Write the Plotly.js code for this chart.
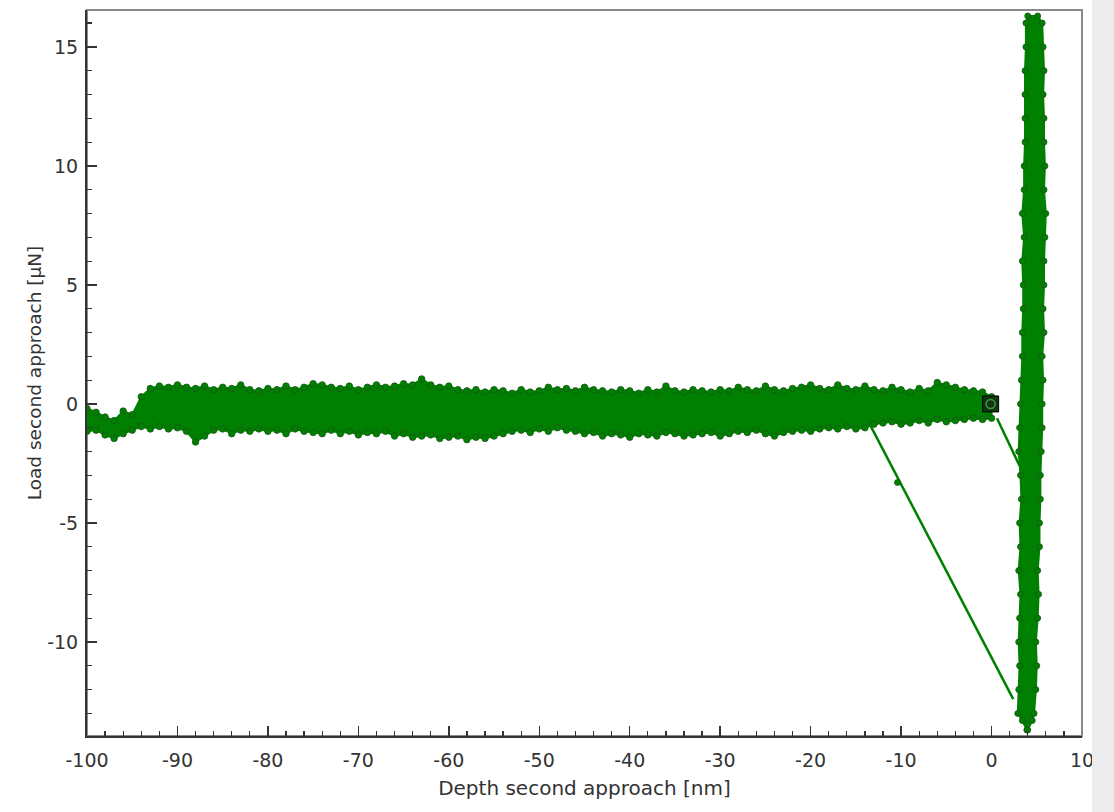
<!DOCTYPE html>
<html>
<head>
<meta charset="utf-8">
<script src="https://cdn.plot.ly/plotly-3.0.1.min.js"></script>
<style>
html,body{margin:0;padding:0;background:#fff;}
#chart{width:1114px;height:812px;}
</style>
</head>
<body>
<div id="chart"></div>
<script>
// Horizontal (approach) band: depth positions and upper/lower load envelopes
const bandDepth = [-100,-99,-98,-97,-96,-95,-94,-93,-92,-91,-90,-89,-88,-87,-86,-85,-84,-83,-82,-81,-80,-79,-78,-77,-76,-75,-74,-73,-72,-71,-70,-69,-68,-67,-66,-65,-64,-63,-62,-61,-60,-59,-58,-57,-56,-55,-54,-53,-52,-51,-50,-49,-48,-47,-46,-45,-44,-43,-42,-41,-40,-39,-38,-37,-36,-35,-34,-33,-32,-31,-30,-29,-28,-27,-26,-25,-24,-23,-22,-21,-20,-19,-18,-17,-16,-15,-14,-13,-12,-11,-10,-9,-8,-7,-6,-5,-4,-3,-2,-1,0];
const bandTop = [-0.2,-0.35,-0.55,-0.7,-0.3,-0.45,0.3,0.65,0.75,0.7,0.8,0.7,0.65,0.75,0.6,0.7,0.65,0.8,0.6,0.55,0.65,0.6,0.75,0.6,0.7,0.85,0.8,0.7,0.65,0.75,0.6,0.7,0.8,0.7,0.75,0.85,0.8,1.05,0.8,0.7,0.75,0.6,0.55,0.6,0.5,0.6,0.55,0.45,0.6,0.5,0.55,0.7,0.6,0.65,0.55,0.7,0.6,0.55,0.5,0.6,0.55,0.45,0.6,0.5,0.75,0.55,0.5,0.6,0.55,0.5,0.6,0.55,0.7,0.6,0.55,0.75,0.6,0.55,0.65,0.7,0.8,0.65,0.6,0.8,0.65,0.6,0.75,0.6,0.55,0.7,0.6,0.5,0.65,0.55,0.9,0.8,0.7,0.6,0.55,0.5,0.3];
const bandBottom = [-1.15,-1.1,-1.3,-1.45,-1.25,-1.1,-0.95,-1.05,-0.95,-1.05,-1.0,-1.15,-1.6,-1.35,-1.1,-1.05,-1.25,-1.1,-1.15,-1.05,-1.15,-1.1,-1.25,-1.05,-1.15,-1.2,-1.25,-1.1,-1.25,-1.15,-1.3,-1.2,-1.25,-1.15,-1.35,-1.25,-1.4,-1.35,-1.3,-1.45,-1.4,-1.35,-1.5,-1.4,-1.45,-1.35,-1.25,-1.15,-1.1,-1.2,-1.05,-1.15,-1.0,-1.1,-1.15,-1.25,-1.2,-1.35,-1.25,-1.3,-1.4,-1.25,-1.3,-1.35,-1.2,-1.25,-1.35,-1.3,-1.25,-1.2,-1.35,-1.25,-1.15,-1.2,-1.1,-1.25,-1.35,-1.2,-1.15,-1.1,-1.15,-1.05,-1.0,-1.05,-0.95,-1.05,-1.0,-0.85,-0.8,-0.75,-0.85,-0.8,-0.7,-0.8,-0.65,-0.75,-0.7,-0.65,-0.6,-0.65,-0.6];

// Vertical (loading) band: load positions and left/right depth envelopes
const riseLoad = [-13.7,-13.3,-13,-12,-11,-10,-9,-8,-7,-6,-5,-4,-3,-2,-1,0,1,2,3,4,5,6,7,8,9,10,11,12,13,14,15,16,16.3];
const riseLeft = [3.9,3.4,2.9,3.0,3.1,3.0,3.1,3.2,3.0,3.2,3.1,3.3,3.2,3.0,3.1,3.2,3.3,3.4,3.4,3.5,3.5,3.4,3.6,3.4,3.6,3.6,3.7,3.7,3.7,3.7,3.8,3.8,4.0];
const riseRight = [4.0,4.5,4.7,4.9,5.0,4.9,5.1,5.2,5.1,5.3,5.3,5.4,5.4,5.5,5.6,5.6,5.7,5.6,5.8,5.7,5.8,5.8,5.9,6.0,5.8,5.9,5.8,5.8,5.7,5.8,5.7,5.6,5.1];

// Jump segments
const jump1Depth = [-13.4, 2.4];
const jump1Load = [-0.9, -12.4];
const jump1MidDepth = [-10.4];
const jump1MidLoad = [-3.3];
const jump2Depth = [0.6, 3.1];
const jump2Load = [-0.6, -2.6];

// Contact point marker
const contactDepth = [-0.1];
const contactLoad = [0.0];

const xTicks = [-100,-90,-80,-70,-60,-50,-40,-30,-20,-10,0,10];
const yTicks = [-10,-5,0,5,10,15];

const green = 'rgb(0,128,0)';
const edge = 'rgb(24,84,24)';

const polyX = bandDepth.concat(bandDepth.slice().reverse());
const polyY = bandTop.concat(bandBottom.slice().reverse());
const rPolyX = riseLeft.concat(riseRight.slice().reverse());
const rPolyY = riseLoad.concat(riseLoad.slice().reverse());

const traces = [
  {x: polyX, y: polyY, type:'scatter', mode:'lines', fill:'toself', fillcolor: green,
   line:{color: green, width:2}, hoverinfo:'skip'},
  {x: rPolyX, y: rPolyY, type:'scatter', mode:'lines', fill:'toself', fillcolor: green,
   line:{color: green, width:2}, hoverinfo:'skip'},
  {x: bandDepth.concat(bandDepth), y: bandTop.concat(bandBottom), type:'scatter', mode:'markers',
   marker:{size:6.5, color: green, line:{color: edge, width:0.8}}, hoverinfo:'skip'},
  {x: riseLeft.concat(riseRight), y: riseLoad.concat(riseLoad), type:'scatter', mode:'markers',
   marker:{size:6, color: green, line:{color: edge, width:0.8}}, hoverinfo:'skip'},
  {x: jump1Depth, y: jump1Load, type:'scatter', mode:'lines', line:{color: green, width:2.5}},
  {x: jump1MidDepth, y: jump1MidLoad, type:'scatter', mode:'markers', marker:{size:6, color: green, line:{color: edge, width:0.8}}},
  {x: jump2Depth, y: jump2Load, type:'scatter', mode:'lines', line:{color: green, width:2.5}},
  {x: contactDepth, y: contactLoad, type:'scatter', mode:'markers',
   marker:{symbol:'square', size:16, color:'#0f360f', line:{color:'#000', width:1}}},
  {x: contactDepth, y: contactLoad, type:'scatter', mode:'markers',
   marker:{symbol:'circle-open', size:9, color:'rgb(70,150,70)', line:{width:1.5}}}
];

const fontFam = '"DejaVu Sans", Verdana, sans-serif';

const layout = {
  width:1114, height:812,
  margin:{l:87, r:32, t:10, b:76},
  paper_bgcolor:'#fff', plot_bgcolor:'#fff',
  showlegend:false,
  font:{family: fontFam, color:'#333'},
  xaxis:{
    range:[-100,10], tickvals: xTicks, ticktext: xTicks.map(String),
    ticks:'inside', ticklen:10, tickwidth:1.5, tickcolor:'#333',
    minor:{dtick:2, ticks:'inside', ticklen:5, tickwidth:1.2, tickcolor:'#333'},
    showgrid:false, zeroline:false,
    showline:true, linecolor:'#333', linewidth:2, mirror:false,
    tickfont:{size:19, color:'#333', family: fontFam},
    ticklabelstandoff: 6,
    title:{text:'Depth second approach [nm]', font:{size:20, color:'#333', family: fontFam}, standoff: 11}
  },
  yaxis:{
    range:[-13.95,16.55], tickvals: yTicks, ticktext: yTicks.map(String),
    ticks:'inside', ticklen:10, tickwidth:1.5, tickcolor:'#333',
    minor:{dtick:1, ticks:'inside', ticklen:5, tickwidth:1.2, tickcolor:'#333'},
    showgrid:false, zeroline:false,
    showline:true, linecolor:'#333', linewidth:2, mirror:false,
    tickfont:{size:19, color:'#333', family: fontFam},
    ticklabelstandoff: 3,
    title:{text:'Load second approach [µN]', font:{size:18.5, color:'#333', family: fontFam}, standoff: 1}
  },
  shapes:[
    {type:'rect', xref:'paper', yref:'paper', x0:0, x1:1, y0:0, y1:1,
     line:{color:'#8a8a8a', width:2}, layer:'below'},
    {type:'rect', xref:'paper', yref:'paper', x0:(1092-87)/995, x1:(1114-87)/995,
     y0:-76/726, y1:(726+10)/726, fillcolor:'#ececec', line:{width:0}, layer:'above'}
  ]
};

Plotly.newPlot('chart', traces, layout, {staticPlot:true});
</script>
</body>
</html>
